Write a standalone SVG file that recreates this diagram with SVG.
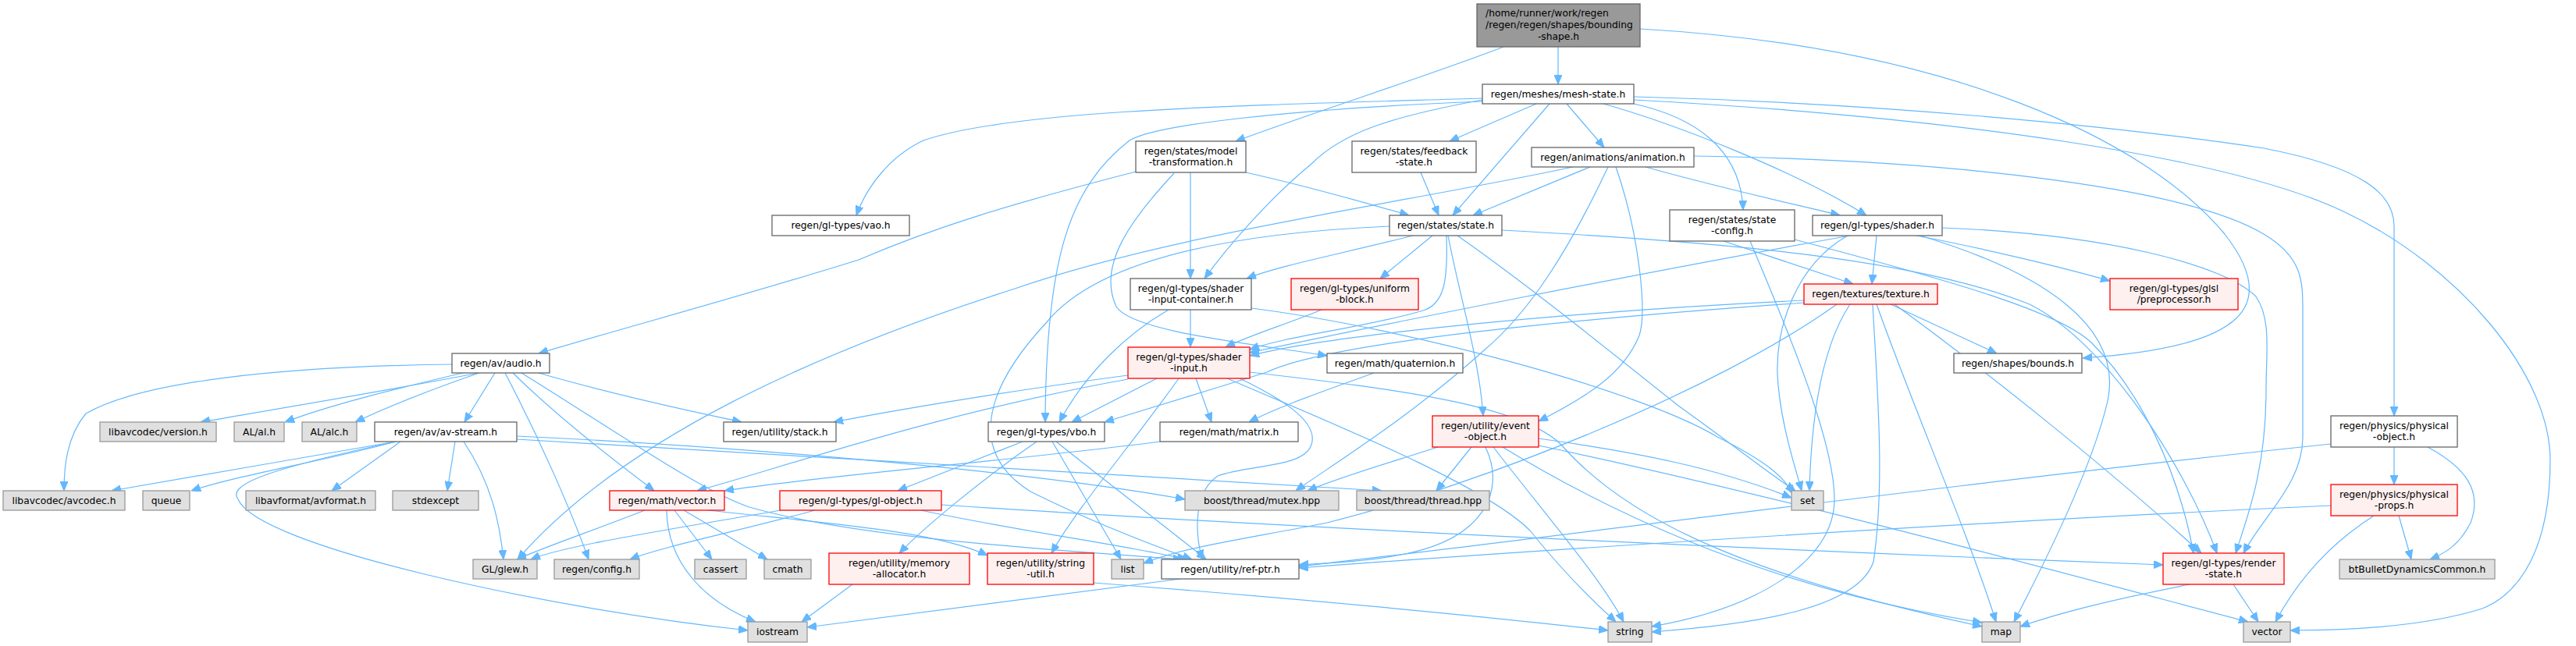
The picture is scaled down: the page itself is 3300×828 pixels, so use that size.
<svg xmlns="http://www.w3.org/2000/svg" width="3300" height="828" viewBox="0 0 3300 828">
<style>
rect{stroke-width:1.3}
.n rect{fill:#ffffff;stroke:#666666}
.x rect{fill:#e0e0e0;stroke:#999999}
.r rect{fill:#fff0f0;stroke:#ff0000}
.root rect{fill:#999999;stroke:#666666}
text{font-family:"DejaVu Sans","Liberation Sans",sans-serif;font-size:12.3px;fill:#000000;text-anchor:middle}
text.s{text-anchor:start}
#edges path{fill:none;stroke:#63b8ff;stroke-width:1.2;marker-end:url(#ah)}
</style>
<defs>
<marker id="ah" viewBox="0 0 12 10" refX="12" refY="5" markerWidth="12" markerHeight="10" markerUnits="userSpaceOnUse" orient="auto"><path d="M0,0 L12,5 L0,10 z" fill="#63b8ff" stroke="#63b8ff" stroke-width="1"/></marker>
</defs>
<rect width="3300" height="828" fill="#ffffff"/>
<g id="edges">
<path d="M1996,60 L1996,108"/>
<path d="M1926,60 C1850,90 1680,145 1583,181"/>
<path d="M2101,37 C2500,60 2750,180 2850,300 C2920,390 2880,445 2668,459"/>
<path d="M1899,126 C1600,135 1300,140 1183,180 C1140,200 1110,240 1097,276"/>
<path d="M1899,130 C1650,140 1480,160 1447,180 C1370,240 1340,330 1339,541"/>
<path d="M1899,128 C1780,150 1720,170 1680,210 C1620,260 1570,320 1543,357"/>
<path d="M1968,133 L1857,181"/>
<path d="M1985,133 L1861,276"/>
<path d="M2007,133 L2055,189"/>
<path d="M2093,133 C2170,150 2230,190 2233,269"/>
<path d="M2054,133 C2150,160 2300,220 2391,276"/>
<path d="M2093,124 C2400,132 2700,160 2900,190 C3030,215 3067,250 3067,290 L3067,533"/>
<path d="M2093,128 C2500,150 2850,200 3000,270 C3150,340 3267,480 3267,590 C3267,700 3230,760 3180,780 C3100,805 2990,808 2934,808"/>
<path d="M1455,220 C1300,260 1200,290 1100,333 C950,380 800,420 690,453"/>
<path d="M1504,222 C1450,280 1405,340 1430,393 C1450,425 1600,440 1700,456"/>
<path d="M1525,221 L1525,357"/>
<path d="M1596,221 C1680,240 1750,260 1805,276"/>
<path d="M1820,221 L1843,276"/>
<path d="M2037,214 L1887,276"/>
<path d="M2108,214 C2200,240 2300,262 2357,276"/>
<path d="M2070,214 C2100,300 2110,400 2100,430 C2080,480 2030,510 1971,540"/>
<path d="M2060,214 C2010,320 1960,400 1900,450 C1800,540 1700,600 1660,629"/>
<path d="M2015,214 C1800,260 1500,300 1300,370 C1050,450 800,560 663,717"/>
<path d="M2170,200 C2500,205 2800,240 2900,300 C2950,330 2950,360 2950,400 L2950,560 C2950,620 2900,660 2874,709"/>
<path d="M1810,302 C1720,325 1640,340 1597,357"/>
<path d="M1835,302 L1768,357"/>
<path d="M1853,302 C1855,360 1850,390 1823,398 C1750,420 1650,430 1601,448"/>
<path d="M1855,302 C1870,380 1895,460 1900,533"/>
<path d="M1867,302 C1950,360 2050,440 2150,520 C2220,570 2270,610 2300,629"/>
<path d="M1780,290 C1550,300 1400,340 1340,414 C1260,500 1240,580 1320,630 C1400,670 1480,700 1527,717"/>
<path d="M1924,295 C2200,310 2450,330 2600,390 C2700,440 2800,600 2840,709"/>
<path d="M1693,397 C1650,415 1600,430 1570,445"/>
<path d="M1525,397 L1525,445"/>
<path d="M1497,397 C1440,430 1390,480 1357,541"/>
<path d="M1603,395 C1800,420 2100,500 2200,560 C2260,590 2285,610 2298,634"/>
<path d="M2208,309 L2374,364"/>
<path d="M2242,309 C2280,400 2350,560 2350,640 C2350,720 2250,780 2116,803"/>
<path d="M2299,307 C2500,360 2640,400 2680,440 C2740,500 2790,600 2810,709"/>
<path d="M2370,302 C2100,350 1750,420 1601,452"/>
<path d="M2404,302 L2398,364"/>
<path d="M2455,302 C2550,320 2650,345 2703,360"/>
<path d="M2367,302 C2300,340 2275,420 2277,480 C2280,540 2300,600 2308,629"/>
<path d="M2460,302 C2620,350 2720,420 2700,514 C2680,600 2620,720 2580,797"/>
<path d="M2488,292 C2700,300 2850,340 2890,380 C2910,410 2903,450 2903,500 C2903,600 2880,660 2864,709"/>
<path d="M2311,385 C2000,400 1700,430 1601,456"/>
<path d="M2311,388 C2000,410 1700,440 1623,477 C1550,500 1450,530 1415,541"/>
<path d="M2370,390 C2330,450 2320,550 2318,629"/>
<path d="M2399,390 C2405,500 2415,620 2400,720 C2380,780 2250,800 2116,810"/>
<path d="M2404,390 C2450,520 2520,680 2557,797"/>
<path d="M2427,390 C2550,480 2700,600 2820,709"/>
<path d="M2422,390 L2558,453"/>
<path d="M2353,390 C2200,500 1900,620 1700,670 C1600,690 1520,700 1465,722"/>
<path d="M1445,481 C1300,500 1150,525 1068,541"/>
<path d="M1445,486 C1200,530 1000,600 893,629"/>
<path d="M1482,485 L1373,541"/>
<path d="M1510,485 C1450,570 1380,650 1347,709"/>
<path d="M1532,485 L1552,541"/>
<path d="M1588,485 C1640,510 1690,540 1680,570 C1670,600 1600,595 1560,610 C1530,630 1530,680 1540,717"/>
<path d="M1572,485 C1700,540 1900,620 1960,680 C2000,730 2040,770 2070,797"/>
<path d="M1601,477 C1800,500 1950,520 2000,570 C2070,650 2200,730 2539,803"/>
<path d="M1310,566 L1150,629"/>
<path d="M1328,566 C1250,620 1180,680 1152,709"/>
<path d="M1348,566 L1436,717"/>
<path d="M1353,566 C1420,620 1500,680 1545,717"/>
<path d="M1486,566 C1300,590 1050,610 928,629"/>
<path d="M1760,478 C1700,500 1640,520 1600,541"/>
<path d="M634,478 L595,541"/>
<path d="M613,478 C500,500 350,525 257,541"/>
<path d="M593,478 C500,500 420,520 365,541"/>
<path d="M614,478 C550,500 500,520 455,541"/>
<path d="M579,467 C350,470 180,490 110,530 C85,560 82,600 82,629"/>
<path d="M690,478 C800,510 900,530 950,541"/>
<path d="M657,478 C720,540 800,600 838,629"/>
<path d="M647,478 C690,560 730,650 754,717"/>
<path d="M668,478 C800,560 900,630 960,650 C1100,690 1350,705 1515,717"/>
<path d="M507,566 C400,585 250,610 143,629"/>
<path d="M507,566 C420,590 300,610 245,629"/>
<path d="M513,566 L425,629"/>
<path d="M583,566 L573,629"/>
<path d="M594,566 C630,620 640,670 645,717"/>
<path d="M507,566 C350,600 290,620 305,640 C330,700 700,780 958,808"/>
<path d="M662,559 C900,570 1300,600 1518,640"/>
<path d="M662,563 C1000,585 1500,610 1770,629"/>
<path d="M826,654 C760,680 700,700 662,717"/>
<path d="M854,654 C855,720 900,770 968,797"/>
<path d="M864,654 L912,717"/>
<path d="M876,654 L983,717"/>
<path d="M907,654 C1050,670 1200,680 1265,712"/>
<path d="M1000,654 C850,680 720,700 680,717"/>
<path d="M1044,654 C950,680 850,700 807,717"/>
<path d="M1180,654 C1300,680 1450,700 1520,717"/>
<path d="M1206,647 C1700,680 2400,710 2771,724"/>
<path d="M1092,749 L1027,797"/>
<path d="M1512,742 C1300,770 1150,790 1034,804"/>
<path d="M1401,747 C1700,770 1900,790 2060,808"/>
<path d="M1842,573 C1790,590 1720,610 1675,629"/>
<path d="M1885,573 L1840,629"/>
<path d="M1913,573 C1980,660 2050,740 2080,797"/>
<path d="M1903,573 C1930,630 1900,690 1800,710 C1750,720 1700,722 1664,724"/>
<path d="M1925,573 C2100,680 2300,760 2539,798"/>
<path d="M1971,562 C2100,580 2200,600 2295,638"/>
<path d="M1971,571 C2300,640 2700,750 2880,797"/>
<path d="M2805,749 C2700,770 2640,785 2588,803"/>
<path d="M2861,749 L2893,797"/>
<path d="M3067,573 L3067,621"/>
<path d="M3110,573 C3160,600 3180,630 3165,670 C3150,700 3130,710 3113,717"/>
<path d="M2986,569 C2500,620 1900,700 1664,726"/>
<path d="M3041,661 C2980,700 2940,750 2915,797"/>
<path d="M3073,661 L3089,717"/>
<path d="M2986,648 C2500,670 1900,710 1664,728"/>
</g>
<g id="root" class="root"><rect x="1892" y="5" width="209" height="55"/><text class="s" x="1903" y="20.7">/home/runner/work/regen</text><text class="s" x="1903" y="35.6">/regen/regen/shapes/bounding</text><text x="1996.5" y="50.5">-shape.h</text></g>
<g id="mesh" class="n"><rect x="1899" y="108" width="194" height="25"/><text x="1996" y="124.9">regen/meshes/mesh-state.h</text></g>
<g id="feedback" class="n"><rect x="1732" y="181" width="159" height="40"/><text x="1811.5" y="197.5">regen/states/feedback</text><text x="1811.5" y="212.2">-state.h</text></g>
<g id="anim" class="n"><rect x="1962" y="189" width="208" height="25"/><text x="2066" y="205.9">regen/animations/animation.h</text></g>
<g id="modelT" class="n"><rect x="1455" y="181" width="141" height="40"/><text x="1525.5" y="197.5">regen/states/model</text><text x="1525.5" y="212.2">-transformation.h</text></g>
<g id="vao" class="n"><rect x="989" y="276" width="176" height="26"/><text x="1077" y="293.4">regen/gl-types/vao.h</text></g>
<g id="state" class="n"><rect x="1780" y="276" width="144" height="26"/><text x="1852" y="293.4">regen/states/state.h</text></g>
<g id="stateCfg" class="n"><rect x="2139" y="269" width="160" height="40"/><text x="2219" y="285.5">regen/states/state</text><text x="2219" y="300.2">-config.h</text></g>
<g id="shader" class="n"><rect x="2322" y="276" width="166" height="26"/><text x="2405" y="293.4">regen/gl-types/shader.h</text></g>
<g id="uniBlock" class="r"><rect x="1654" y="357" width="163" height="40"/><text x="1735.5" y="373.5">regen/gl-types/uniform</text><text x="1735.5" y="388.2">-block.h</text></g>
<g id="container" class="n"><rect x="1448" y="357" width="155" height="40"/><text x="1525.5" y="373.5">regen/gl-types/shader</text><text x="1525.5" y="388.2">-input-container.h</text></g>
<g id="texture" class="r"><rect x="2311" y="364" width="171" height="26"/><text x="2396.5" y="381.4">regen/textures/texture.h</text></g>
<g id="glsl" class="r"><rect x="2703" y="357" width="164" height="40"/><text x="2785" y="373.5">regen/gl-types/glsl</text><text x="2785" y="388.2">/preprocessor.h</text></g>
<g id="audio" class="n"><rect x="579" y="453" width="125" height="25"/><text x="641.5" y="469.9">regen/av/audio.h</text></g>
<g id="shaderInput" class="r"><rect x="1445" y="445" width="156" height="40"/><text x="1523" y="461.5">regen/gl-types/shader</text><text x="1523" y="476.2">-input.h</text></g>
<g id="quat" class="n"><rect x="1700" y="453" width="174" height="25"/><text x="1787" y="469.9">regen/math/quaternion.h</text></g>
<g id="bounds" class="n"><rect x="2503" y="453" width="164" height="25"/><text x="2585" y="469.9">regen/shapes/bounds.h</text></g>
<g id="version" class="x"><rect x="128" y="541" width="149" height="25"/><text x="202.5" y="557.9">libavcodec/version.h</text></g>
<g id="al" class="x"><rect x="300" y="541" width="64" height="25"/><text x="332" y="557.9">AL/al.h</text></g>
<g id="alc" class="x"><rect x="387" y="541" width="70" height="25"/><text x="422" y="557.9">AL/alc.h</text></g>
<g id="avstream" class="n"><rect x="480" y="541" width="182" height="25"/><text x="571" y="557.9">regen/av/av-stream.h</text></g>
<g id="stack" class="n"><rect x="927" y="541" width="144" height="25"/><text x="999" y="557.9">regen/utility/stack.h</text></g>
<g id="vbo" class="n"><rect x="1266" y="541" width="149" height="25"/><text x="1340.5" y="557.9">regen/gl-types/vbo.h</text></g>
<g id="matrix" class="n"><rect x="1486" y="541" width="177" height="25"/><text x="1574.5" y="557.9">regen/math/matrix.h</text></g>
<g id="eventObj" class="r"><rect x="1835" y="533" width="136" height="40"/><text x="1903" y="549.5">regen/utility/event</text><text x="1903" y="564.2">-object.h</text></g>
<g id="physObj" class="n"><rect x="2986" y="533" width="162" height="40"/><text x="3067" y="549.5">regen/physics/physical</text><text x="3067" y="564.2">-object.h</text></g>
<g id="avcodec" class="x"><rect x="4" y="629" width="156" height="25"/><text x="82" y="645.9">libavcodec/avcodec.h</text></g>
<g id="queue" class="x"><rect x="183" y="629" width="60" height="25"/><text x="213" y="645.9">queue</text></g>
<g id="avformat" class="x"><rect x="315" y="629" width="166" height="25"/><text x="398" y="645.9">libavformat/avformat.h</text></g>
<g id="stdexcept" class="x"><rect x="503" y="629" width="110" height="25"/><text x="558" y="645.9">stdexcept</text></g>
<g id="vecMath" class="r"><rect x="781" y="629" width="147" height="25"/><text x="854.5" y="645.9">regen/math/vector.h</text></g>
<g id="glObj" class="r"><rect x="999" y="629" width="207" height="25"/><text x="1102.5" y="645.9">regen/gl-types/gl-object.h</text></g>
<g id="mutex" class="x"><rect x="1518" y="629" width="197" height="25"/><text x="1616.5" y="645.9">boost/thread/mutex.hpp</text></g>
<g id="thread" class="x"><rect x="1738" y="629" width="170" height="25"/><text x="1823" y="645.9">boost/thread/thread.hpp</text></g>
<g id="set" class="x"><rect x="2295" y="629" width="41" height="25"/><text x="2315.5" y="645.9">set</text></g>
<g id="physProps" class="r"><rect x="2986" y="621" width="162" height="40"/><text x="3067" y="637.5">regen/physics/physical</text><text x="3067" y="652.2">-props.h</text></g>
<g id="glew" class="x"><rect x="606" y="717" width="82" height="25"/><text x="647" y="733.9">GL/glew.h</text></g>
<g id="config" class="x"><rect x="710" y="717" width="109" height="25"/><text x="764.5" y="733.9">regen/config.h</text></g>
<g id="cassert" class="x"><rect x="890" y="717" width="66" height="25"/><text x="923" y="733.9">cassert</text></g>
<g id="cmath" class="x"><rect x="979" y="717" width="60" height="25"/><text x="1009" y="733.9">cmath</text></g>
<g id="memAlloc" class="r"><rect x="1062" y="709" width="180" height="40"/><text x="1152" y="725.5">regen/utility/memory</text><text x="1152" y="740.2">-allocator.h</text></g>
<g id="strUtil" class="r"><rect x="1265" y="709" width="136" height="40"/><text x="1333" y="725.5">regen/utility/string</text><text x="1333" y="740.2">-util.h</text></g>
<g id="list" class="x"><rect x="1424" y="717" width="41" height="25"/><text x="1444.5" y="733.9">list</text></g>
<g id="refPtr" class="n"><rect x="1488" y="717" width="176" height="25"/><text x="1576" y="733.9">regen/utility/ref-ptr.h</text></g>
<g id="renderState" class="r"><rect x="2771" y="709" width="155" height="40"/><text x="2848.5" y="725.5">regen/gl-types/render</text><text x="2848.5" y="740.2">-state.h</text></g>
<g id="bullet" class="x"><rect x="2997" y="717" width="199" height="25"/><text x="3096.5" y="733.9">btBulletDynamicsCommon.h</text></g>
<g id="iostream" class="x"><rect x="958" y="797" width="76" height="26"/><text x="996" y="814.4">iostream</text></g>
<g id="string" class="x"><rect x="2060" y="797" width="56" height="26"/><text x="2088" y="814.4">string</text></g>
<g id="map" class="x"><rect x="2539" y="797" width="49" height="26"/><text x="2563.5" y="814.4">map</text></g>
<g id="vector" class="x"><rect x="2874" y="797" width="60" height="26"/><text x="2904" y="814.4">vector</text></g>
</svg>
